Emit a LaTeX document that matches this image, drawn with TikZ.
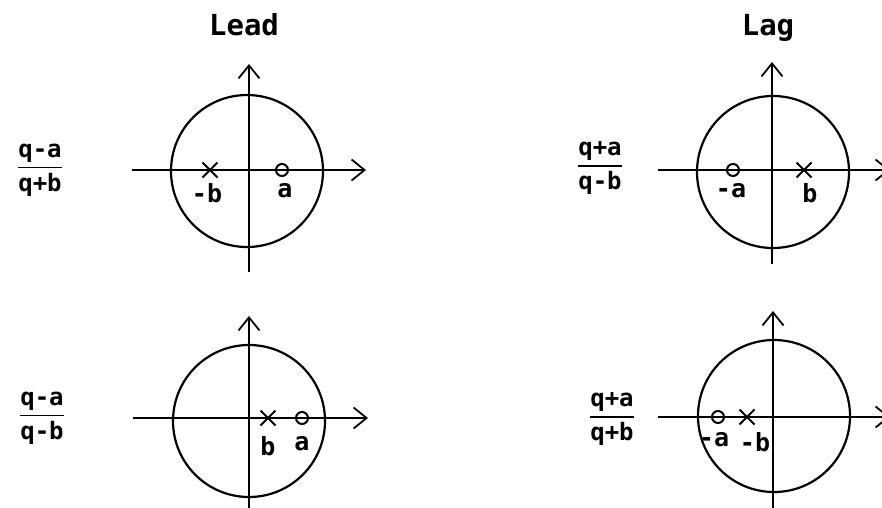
\documentclass[tikz,border=0pt]{standalone}
\usepackage{fontspec}
\setmainfont{DejaVu Sans Mono}
\usetikzlibrary{positioning,arrows.meta,shapes.misc}

\tikzset{
    axis/.style={line width=1.6pt, -{Straight Barb[length=13pt,width=21pt,line width=1.8pt]}},
    unitcircle/.style={line width=2.2pt},
    polemark/.style={cross out, draw, line width=2pt, minimum size=13pt, inner sep=0pt},
    zeromark/.style={circle, draw, line width=2pt, minimum size=12pt, inner sep=0pt},
    marklabel/.style={font=\fontsize{25}{28}\selectfont\bfseries, inner sep=0pt},
    transfer/.style={font=\fontsize{24}{28}\selectfont\bfseries, inner sep=0pt},
    heading/.style={font=\fontsize{29}{32}\selectfont\bfseries, inner sep=0pt, anchor=base}
}

\begin{document}
\begin{tikzpicture}[x=1pt, y=-1pt]
    \definecolor{paperColour}{HTML}{FFFFFF}

    \def\radius{76}

    \useasboundingbox[fill=paperColour] (0,0) rectangle (882,507);

    % Headings
    \node[heading] (lead) at (244,35) {Lead};
    \node[heading] (lag) at (768,35) {Lag};

    % Axis end points
    \coordinate (W1) at (132,170);  \coordinate (E1) at (366,170);
    \coordinate (S1) at (249,272);  \coordinate (N1) at (249,64);
    \coordinate (W2) at (658,170);  \coordinate (E2) at (890,170);
    \coordinate (S2) at (772,264);  \coordinate (N2) at (772,62);
    \coordinate (W3) at (133,418);  \coordinate (E3) at (368,418);
    \coordinate (S3) at (249,510);  \coordinate (N3) at (249,316);
    \coordinate (W4) at (658,417);  \coordinate (E4) at (890,417);
    \coordinate (S4) at (773,510);  \coordinate (N4) at (773,311);

    % Draw axes
    \foreach \i in {1,...,4} {
        \draw[axis] (W\i) -- (E\i);
        \draw[axis] (S\i) -- (N\i);
    }

    % Draw unit circles
    \draw[unitcircle] (247,171) circle (\radius);
    \draw[unitcircle] (773,172) circle (\radius);
    \draw[unitcircle] (249,421) circle (\radius);
    \draw[unitcircle] (774,416) circle (\radius);

    % Transfer functions
    \node[transfer] (f1) at (40,170) {$\displaystyle{\mbox{q-a}\above 1.6pt\mbox{q+b}}$};
    \node[transfer] (f2) at (600,168) {$\displaystyle{\mbox{q+a}\above 1.6pt\mbox{q-b}}$};
    \node[transfer] (f3) at (42,418) {$\displaystyle{\mbox{q-a}\above 1.6pt\mbox{q-b}}$};
    \node[transfer] (f4) at (612,419) {$\displaystyle{\mbox{q+a}\above 1.6pt\mbox{q+b}}$};

    % Lead, q+b below
    \node[polemark] (p1) at (210,170) {};
    \node[zeromark] (z1) at (282,170) {};
    \node[marklabel, below=6pt of p1, xshift=-3pt] {-b};
    \node[marklabel, below=6pt of z1, xshift=3pt] {a};

    % Lag, q-b below
    \node[zeromark] (z2) at (733,170) {};
    \node[polemark] (p2) at (804,170) {};
    \node[marklabel, below=6pt of z2, xshift=-2pt] {-a};
    \node[marklabel, below=6pt of p2, xshift=6pt] {b};

    % Lead, q-b below
    \node[polemark] (p3) at (268,418) {};
    \node[zeromark] (z3) at (302,418) {};
    \node[marklabel, below=11pt of p3] {b};
    \node[marklabel, below=11pt of z3] {a};

    % Lag, q+b below
    \node[zeromark] (z4) at (718,417) {};
    \node[polemark] (p4) at (747,417) {};
    \node[marklabel, below=8pt of z4, xshift=-4pt] {-a};
    \node[marklabel, below=8pt of p4, xshift=8pt] {-b};

\end{tikzpicture}
\end{document}
